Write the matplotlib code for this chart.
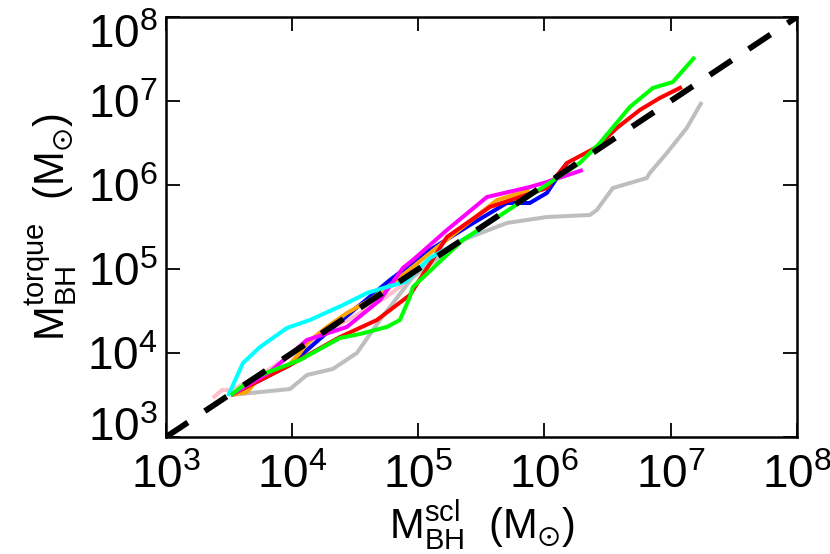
import matplotlib
matplotlib.use("Agg")
import matplotlib.pyplot as plt
import matplotlib.transforms as mtransforms
import numpy as np

plt.rcParams['font.family'] = ['Liberation Sans', 'DejaVu Sans']
plt.rcParams['mathtext.fontset'] = 'custom'
plt.rcParams['mathtext.rm'] = 'Liberation Sans'
plt.rcParams['mathtext.it'] = 'Liberation Sans'
plt.rcParams['mathtext.bf'] = 'Liberation Sans'
plt.rcParams['mathtext.fallback'] = 'stixsans'

# log10 values
gray_x = [3.515, 3.983, 4.117, 4.323, 4.513, 4.696, 4.957, 5.353, 5.702, 6.019, 6.36, 6.415, 6.542, 6.811, 6.835, 6.97, 7.128, 7.247]
gray_y = [3.5, 3.571, 3.738, 3.81, 4.0, 4.393, 4.905, 5.345, 5.548, 5.619, 5.643, 5.702, 5.964, 6.083, 6.143, 6.381, 6.679, 6.988]

pink_x = [3.372, 3.444, 3.523, 3.745, 4.062, 4.3, 4.537, 4.735, 4.894]
pink_y = [3.464, 3.56, 3.56, 3.738, 4.036, 4.274, 4.476, 4.655, 4.833]

blue_x = [3.515, 3.983, 4.3, 4.537, 4.775, 5.092, 5.409, 5.702, 5.884, 6.019, 6.178]
blue_y = [3.5, 3.857, 4.274, 4.571, 4.869, 5.226, 5.524, 5.786, 5.786, 5.905, 6.262]

orange_x = [3.515, 3.642, 3.745, 3.959, 4.062, 4.117, 4.276, 4.434, 4.617, 4.799, 5.092, 5.623, 5.884]
orange_y = [3.5, 3.536, 3.714, 3.833, 4.0, 4.119, 4.31, 4.476, 4.631, 4.833, 5.19, 5.821, 5.94]

red_x = [3.515, 3.983, 4.379, 4.672, 4.933, 5.227, 5.567, 6.019, 6.178, 6.415, 6.574, 6.756, 6.914, 7.089]
red_y = [3.5, 3.857, 4.19, 4.393, 4.69, 5.381, 5.738, 5.964, 6.262, 6.452, 6.679, 6.893, 7.036, 7.167]

magenta_x = [3.515, 3.824, 4.117, 4.434, 4.696, 4.878, 4.957, 5.227, 5.544, 5.884, 6.019, 6.304]
magenta_y = [3.5, 3.774, 4.155, 4.31, 4.631, 5.012, 5.107, 5.464, 5.857, 5.976, 6.036, 6.179]

cyan_x = [3.491, 3.61, 3.745, 3.959, 4.141, 4.403, 4.593, 4.751, 4.894, 5.092, 5.488]
cyan_y = [3.488, 3.881, 4.071, 4.298, 4.393, 4.571, 4.714, 4.786, 4.845, 5.131, 5.464]

green_x = [3.515, 3.689, 4.062, 4.379, 4.537, 4.751, 4.854, 4.933, 4.957, 5.353, 5.75, 6.28, 6.439, 6.677, 6.859, 7.017, 7.192]
green_y = [3.5, 3.702, 3.917, 4.179, 4.226, 4.31, 4.393, 4.667, 4.786, 5.345, 5.738, 6.262, 6.5, 6.929, 7.155, 7.226, 7.524]

one_to_one = [1e3, 1e8]

series = [
    (gray_x, gray_y, '#bebebe'),
    (pink_x, pink_y, '#ffc0cb'),
    (blue_x, blue_y, '#0000ff'),
    (orange_x, orange_y, '#ffa500'),
    (red_x, red_y, '#ff0000'),
    (magenta_x, magenta_y, '#ff00ff'),
    (cyan_x, cyan_y, '#00ffff'),
    (green_x, green_y, '#00ff00'),
]

fig = plt.figure(figsize=(8.3, 5.54), dpi=100)
ax = fig.add_axes([0.2, 0.2112, 0.76, 0.7581])

for xs, ys, c in series:
    ax.plot(10 ** np.array(xs), 10 ** np.array(ys), color=c, lw=2.9,
            solid_capstyle='butt', solid_joinstyle='round')

ax.plot(one_to_one, one_to_one, color='black', lw=4.2, ls=(0, (4.5, 3.5)))

ax.set_xscale('log')
ax.set_yscale('log')
ax.set_xlim(1e3, 1e8)
ax.set_ylim(1e3, 1e8)

ticks = [1e3, 1e4, 1e5, 1e6, 1e7, 1e8]
labels = [r'$\mathregular{10^{%d}}$' % k for k in range(3, 9)]
ax.set_xticks(ticks)
ax.set_xticklabels(labels)
ax.set_yticks(ticks)
ax.set_yticklabels(labels)

ax.tick_params(which='both', direction='in', top=True, right=True, labelsize=33)
ax.tick_params(which='major', length=10, width=1.3)
ax.tick_params(which='minor', length=5, width=1.0)
ax.tick_params(axis='x', pad=12)
ax.tick_params(axis='y', pad=6)
for s in ax.spines.values():
    s.set_linewidth(1.8)

# end labels on the y axis are pushed inward, as in the reference
ylabs = ax.get_yticklabels()
shift_down = mtransforms.ScaledTranslation(0, -0.14, fig.dpi_scale_trans)
shift_up = mtransforms.ScaledTranslation(0, 0.13, fig.dpi_scale_trans)
ylabs[-1].set_transform(ylabs[-1].get_transform() + shift_down)
ylabs[0].set_transform(ylabs[0].get_transform() + shift_up)

sun = '(M$_{\u2299}$)'
ax.set_xlabel(r'$\mathregular{M_{BH}^{scl}}$  ' + sun, fontsize=30, labelpad=0)
ax.set_ylabel(r'$\mathregular{M_{BH}^{torque}}$  ' + sun, fontsize=30, labelpad=6)

fig.savefig('out.png', dpi=100)
